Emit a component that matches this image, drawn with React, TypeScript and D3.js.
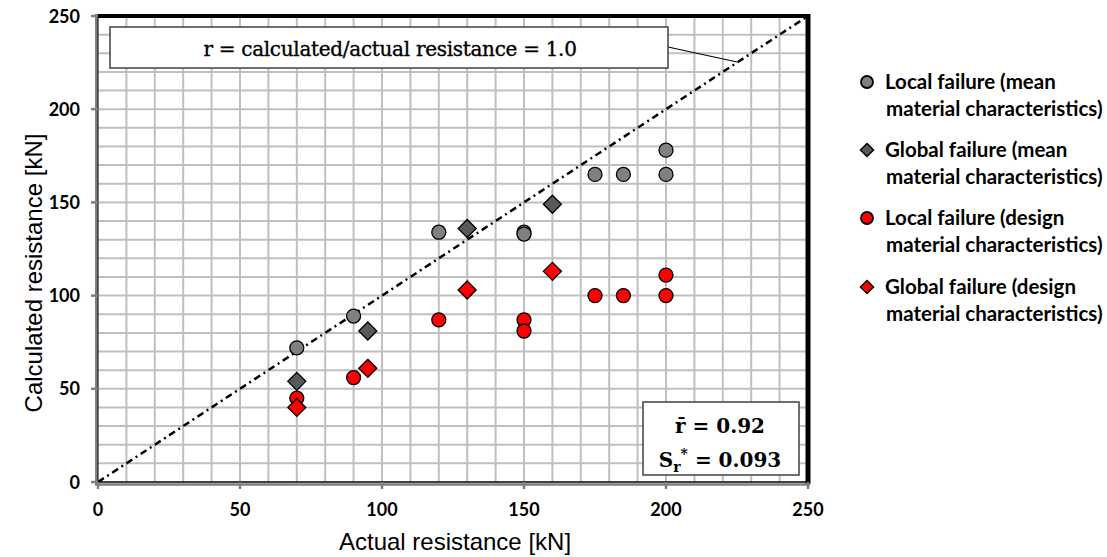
import React from "react";
import * as d3 from "d3";

const localMeanX = [70, 90, 120, 150, 150, 175, 185, 200, 200];
const localMeanY = [72, 89, 134, 134, 133, 165, 165, 165, 178];
const globalMeanX = [70, 95, 130, 160];
const globalMeanY = [54, 81, 136, 149];
const localDesignX = [70, 90, 120, 150, 150, 175, 185, 200, 200];
const localDesignY = [45, 56, 87, 87, 81, 100, 100, 100, 111];
const globalDesignX = [70, 95, 130, 160];
const globalDesignY = [40, 61, 103, 113];

const majorTicks = [0, 50, 100, 150, 200, 250];
const gridTicks = d3.range(10, 250, 10);
const identityLine = [0, 250];

const legendLines = [
  ["Local failure (mean", "material characteristics)"],
  ["Global failure (mean", "material characteristics)"],
  ["Local failure (design", "material characteristics)"],
  ["Global failure (design", "material characteristics)"],
];
const legendKinds = ["circle", "diamond", "circle", "diamond"];
const legendFills = ["#808080", "#595959", "#ff0000", "#ff0000"];

const W = 1107;
const H = 557;
const L = 98, R = 808, T = 16, B = 482;

const x = d3.scaleLinear().domain([0, 250]).range([L, R]);
const y = d3.scaleLinear().domain([0, 250]).range([B, T]);

const diamond = (cx: number, cy: number, s: number) =>
  `M${cx},${cy - s}L${cx + s},${cy}L${cx},${cy + s}L${cx - s},${cy}Z`;

const zip = (xs: number[], ys: number[]) => xs.map((v, i) => [v, ys[i]]);

export default function App() {
  const tickFont = { fontFamily: "Lato", fontWeight: 700, fontSize: 18, fill: "#000" } as const;
  const line = d3.line<number>().x((d) => x(d)).y((d) => y(d));
  return (
    <svg width={W} height={H} style={{ position: "absolute", left: 0, top: 0, background: "#fff" }}>
      {/* grid */}
      {gridTicks.map((t) => (
        <line key={"v" + t} x1={x(t)} x2={x(t)} y1={T} y2={B} stroke="#bfbfbf" strokeWidth={2} />
      ))}
      {gridTicks.map((t) => (
        <line key={"h" + t} x1={L} x2={R} y1={y(t)} y2={y(t)} stroke="#bfbfbf" strokeWidth={2} />
      ))}
      {/* identity line */}
      <path d={line(identityLine) || ""} stroke="#000" strokeWidth={2.5} fill="none" strokeDasharray="7,4,2,4" />
      {/* borders */}
      <line x1={L} x2={R + 2} y1={T} y2={T} stroke="#000" strokeWidth={4} />
      <line x1={R} x2={R} y1={T - 2} y2={B + 2} stroke="#000" strokeWidth={5} />
      <line x1={L - 1.5} x2={L - 1.5} y1={T - 2} y2={B + 3} stroke="#7f7f7f" strokeWidth={3} />
      <line x1={L} x2={L} y1={T} y2={B} stroke="#000" strokeWidth={1} />
      <line x1={L} x2={R} y1={B} y2={B} stroke="#000" strokeWidth={1.5} />
      <line x1={L - 3} x2={R + 2} y1={B + 2.5} y2={B + 2.5} stroke="#7f7f7f" strokeWidth={2.5} />
      {/* ticks */}
      {majorTicks.map((t) => (
        <g key={"tx" + t}>
          <line x1={x(t)} x2={x(t)} y1={B} y2={B + 7} stroke="#7f7f7f" strokeWidth={2.5} />
          <text x={x(t)} y={516} textAnchor="middle" {...tickFont}>{t}</text>
        </g>
      ))}
      {majorTicks.map((t) => (
        <g key={"ty" + t}>
          <line x1={L - 7} x2={L} y1={y(t)} y2={y(t)} stroke="#7f7f7f" strokeWidth={2.5} />
          <text x={L - 18} y={y(t) + 6.5} textAnchor="end" {...tickFont}>{t}</text>
        </g>
      ))}
      {/* axis titles */}
      <text x={455} y={550} textAnchor="middle" fontFamily="Liberation Sans, Arial" fontSize={24} fill="#000">
        Actual resistance [kN]
      </text>
      <text
        transform={`translate(42,${273}) rotate(-90)`}
        textAnchor="middle"
        fontFamily="Liberation Sans, Arial"
        fontSize={24}
        fill="#000"
      >
        Calculated resistance [kN]
      </text>
      {/* annotation box */}
      <line x1={668} y1={47} x2={737} y2={62} stroke="#000" strokeWidth={1.2} />
      <rect x={110} y={27} width={558} height={41} fill="#fff" stroke="#404040" strokeWidth={1.5} />
      <text
        x={390}
        y={56}
        textAnchor="middle"
        fontFamily="DejaVu Serif"
        fontSize={20}
        letterSpacing={-0.3}
        fill="#000"
        stroke="#000"
        strokeWidth={0.35}
      >
        r = calculated/actual resistance = 1.0
      </text>
      {/* data */}
      {zip(localMeanX, localMeanY).map(([a, b], i) => (
        <circle key={"lm" + i} cx={x(a)} cy={y(b)} r={7} fill="#808080" stroke="#000" strokeWidth={1.3} />
      ))}
      {zip(globalMeanX, globalMeanY).map(([a, b], i) => (
        <path key={"gm" + i} d={diamond(x(a), y(b), 9)} fill="#595959" stroke="#000" strokeWidth={1.3} />
      ))}
      {zip(localDesignX, localDesignY).map(([a, b], i) => (
        <circle key={"ld" + i} cx={x(a)} cy={y(b)} r={7} fill="#ff0000" stroke="#000" strokeWidth={1.3} />
      ))}
      {zip(globalDesignX, globalDesignY).map(([a, b], i) => (
        <path key={"gd" + i} d={diamond(x(a), y(b), 9)} fill="#ff0000" stroke="#000" strokeWidth={1.3} />
      ))}
      {/* stats box */}
      <rect x={643} y={402} width={156} height={73} fill="#fff" stroke="#404040" strokeWidth={1.5} />
      <text x={720} y={433} textAnchor="middle" fontFamily="DejaVu Serif" fontWeight={700} fontSize={20} fill="#000">
        {"r\u0304 = 0.92"}
      </text>
      <text x={720} y={467} textAnchor="middle" fontFamily="DejaVu Serif" fontWeight={700} fontSize={20} fill="#000">
        <tspan>S</tspan>
        <tspan fontSize={14} dy={5}>r</tspan>
        <tspan fontSize={14} dy={-13}>*</tspan>
        <tspan dy={8}> = 0.093</tspan>
      </text>
      {/* legend */}
      {legendLines.map((lines, i) => {
        const cy = [82, 150, 218, 287][i];
        return (
          <g key={"lg" + i}>
            {legendKinds[i] === "circle" ? (
              <circle cx={867} cy={cy} r={6} fill={legendFills[i]} stroke="#000" strokeWidth={1.8} />
            ) : (
              <path d={diamond(867, cy, 6.5)} fill={legendFills[i]} stroke="#000" strokeWidth={1.5} />
            )}
            <text x={885} y={cy + 7} fontFamily="Lato" fontWeight={700} fontSize={20.5} fill="#000">
              {lines[0]}
            </text>
            <text x={886} y={cy + 34} fontFamily="Lato" fontWeight={700} fontSize={20.5} fill="#000">
              {lines[1]}
            </text>
          </g>
        );
      })}
    </svg>
  );
}
